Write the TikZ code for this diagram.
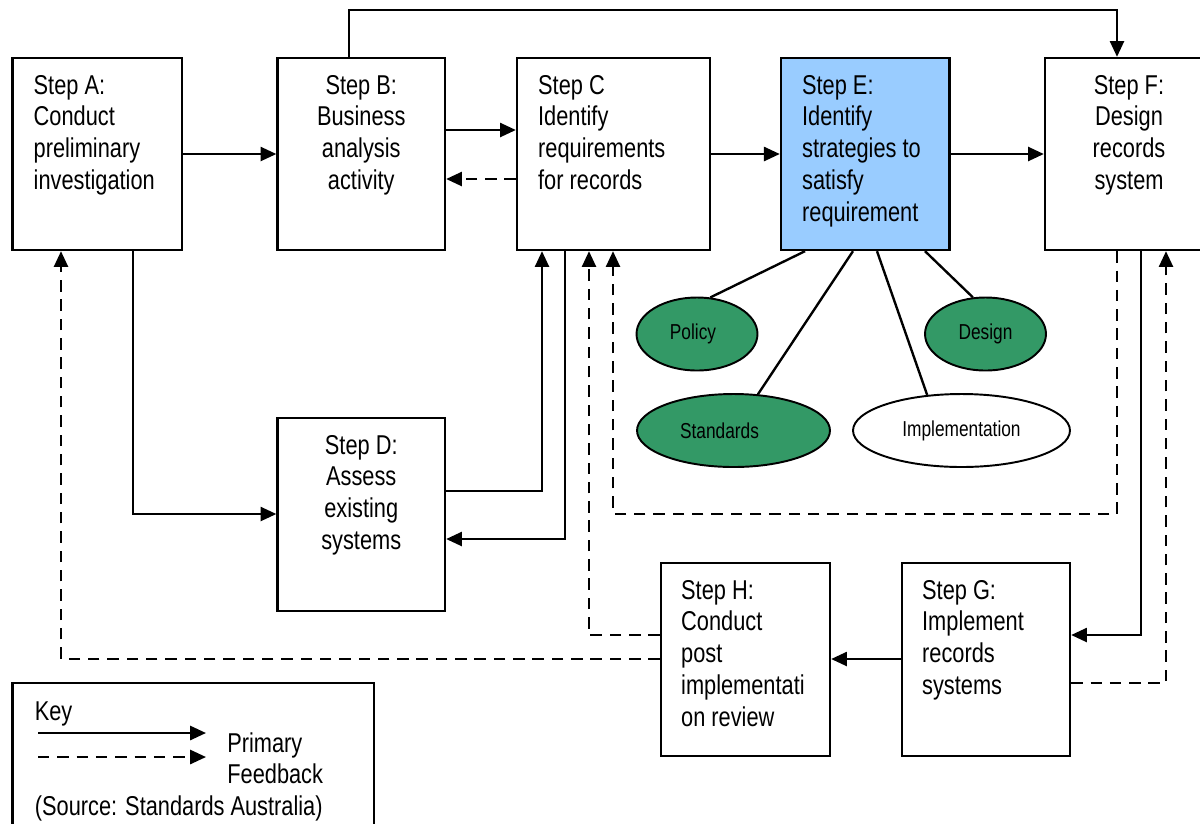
\documentclass[tikz,border=0pt]{standalone}
\usepackage{fontspec}
\setmainfont{Liberation Sans}[FakeStretch=0.8]
\usetikzlibrary{arrows.meta,shapes.geometric}
\definecolor{stepblue}{HTML}{99CCFF}
\definecolor{ovgreen}{HTML}{339966}
\newcommand\bxfont{\fontsize{15.5pt}{18.1pt}\selectfont}
\newcommand\ovfont{\fontsize{12.3pt}{14pt}\selectfont}
\newcommand\fl{\rule{0pt}{11.5pt}}
\tikzset{
  stepbox/.style={draw, line width=1.35pt, inner sep=0pt},
  txt/.style={inner sep=0pt, font=\bxfont, anchor=north west, align=left},
  ctxt/.style={inner sep=0pt, font=\bxfont, anchor=north, align=center},
  ktxt/.style={inner sep=0pt, font=\bxfont, anchor=base west},
  arr/.style={line width=1.35pt, -{Triangle[length=9pt,width=8pt]}},
  fb/.style={arr, dash pattern=on 6.5pt off 4.5pt},
  plain/.style={line width=1.35pt},
  oval/.style={ellipse, draw, line width=1.1pt, inner sep=0pt, font=\ovfont, minimum height=1.46cm},
}
\begin{document}
\begin{tikzpicture}[x=0.02cm, y=-0.02cm]
\useasboundingbox (0,0) rectangle (1200,823);

% boxes
\node[stepbox, minimum width=3.39cm, minimum height=3.84cm] (A) at (97.25,154) {};
\node[stepbox, minimum width=3.35cm, minimum height=3.84cm] (B) at (361.25,154) {};
\node[stepbox, minimum width=3.86cm, minimum height=3.84cm] (C) at (613.5,154) {};
\node[stepbox, fill=stepblue, minimum width=3.37cm, minimum height=3.84cm] (E) at (865.2,154) {};
\node[stepbox, minimum width=3.36cm, minimum height=3.84cm] (F) at (1129,154) {};
\node[stepbox, minimum width=3.35cm, minimum height=3.86cm] (D) at (361.25,514.5) {};
\node[stepbox, minimum width=3.38cm, minimum height=3.86cm] (H) at (745.5,659.5) {};
\node[stepbox, minimum width=3.36cm, minimum height=3.86cm] (G) at (986,659.5) {};
\node[stepbox, minimum width=7.23cm, minimum height=3.14cm] (K) at (193.25,761.5) {};

% box texts
\node[txt] (At) at ([shift={(22,16.7)}]A.north west) {\fl Step A:\\Conduct\\preliminary\\investigation};
\node[ctxt] (Bt) at ([shift={(0,16.7)}]B.north) {\fl Step B:\\Business\\analysis\\activity};
\node[txt] (Ct) at ([shift={(22,16.7)}]C.north west) {\fl Step C\\Identify\\requirements\\for records};
\node[txt] (Et) at ([shift={(22,16.7)}]E.north west) {\fl Step E:\\Identify\\strategies to\\satisfy\\requirement};
\node[ctxt] (Ft) at ([shift={(0,16.7)}]F.north) {\fl Step F:\\Design\\records\\system};
\node[ctxt] (Dt) at ([shift={(0,16.7)}]D.north) {\fl Step D:\\Assess\\existing\\systems};
\node[txt] (Ht) at ([shift={(21,16.7)}]H.north west) {\fl Step H:\\Conduct\\post\\implementati\\on review};
\node[txt] (Gt) at ([shift={(21,16.7)}]G.north west) {\fl Step G:\\Implement\\records\\systems};

% ellipses
\node[oval, fill=ovgreen, minimum width=2.42cm] (Pol) at (697,334) {Policy\hspace*{0.16cm}};
\node[oval, fill=ovgreen, minimum width=2.42cm] (Des) at (985.5,334) {Design};
\node[oval, fill=ovgreen, minimum width=3.86cm] (Std) at (733.5,430.5) {Standards\hspace*{0.56cm}};
\node[oval, fill=white, minimum width=4.34cm] (Imp) at (961.5,430.5) {Implementation};

% E to ellipses
\draw[plain] (E.south -| 805,0) -- (Pol.70);
\draw[plain] (E.south -| 853,0) -- (Std.56);
\draw[plain] (E.south -| 877,0) -- (Imp.134);
\draw[plain] (E.south -| 925,0) -- (Des.109);

% primary flow
\draw[arr] (A.east |- 0,154) -- (B.west |- 0,154);
\draw[arr] (B.east |- 0,130) -- (C.west |- 0,130);
\draw[fb]  (C.west |- 0,179) -- (B.east |- 0,179);
\draw[arr] (C.east |- 0,154) -- (E.west |- 0,154);
\draw[arr] (E.east |- 0,154) -- (F.west |- 0,154);
\draw[arr] (B.north -| 349,0) |- (1117,10) -- (F.north -| 1117,0);
\draw[arr] (A.south -| 133,0) |- (D.west |- 0,514);
\draw[arr] (D.east |- 0,491) -| (C.south -| 542,0);
\draw[arr] (C.south -| 565,0) |- (D.east |- 0,539);
\draw[arr] (F.south -| 1141,0) |- (G.east |- 0,635);
\draw[arr] (G.west |- 0,659) -- (H.east |- 0,659);

% feedback
\draw[fb] (F.south -| 1117,0) |- (613,514) -- (C.south -| 613,0);
\draw[fb] (H.west |- 0,635) -| (C.south -| 589,0);
\draw[fb] (G.east |- 0,683) -| (F.south -| 1166,0);
\draw[fb] (H.west |- 0,659) -| (A.south -| 61,0);

% key
\node[ktxt] (keyt) at (34.5,720) {Key};
\coordinate (ks1) at (38,733);
\coordinate (ke1) at (206,733);
\coordinate (ks2) at (38,757);
\coordinate (ke2) at (206,757);
\draw[arr] (ks1) -- (ke1);
\draw[fb] (ks2) -- (ke2);
\node[ktxt] (prim) at (227,752) {Primary};
\node[ktxt] (feed) at (227,783) {Feedback};
\node[ktxt] (src) at (34.5,815) {(Source: Standards Australia)};
\end{tikzpicture}
\end{document}
